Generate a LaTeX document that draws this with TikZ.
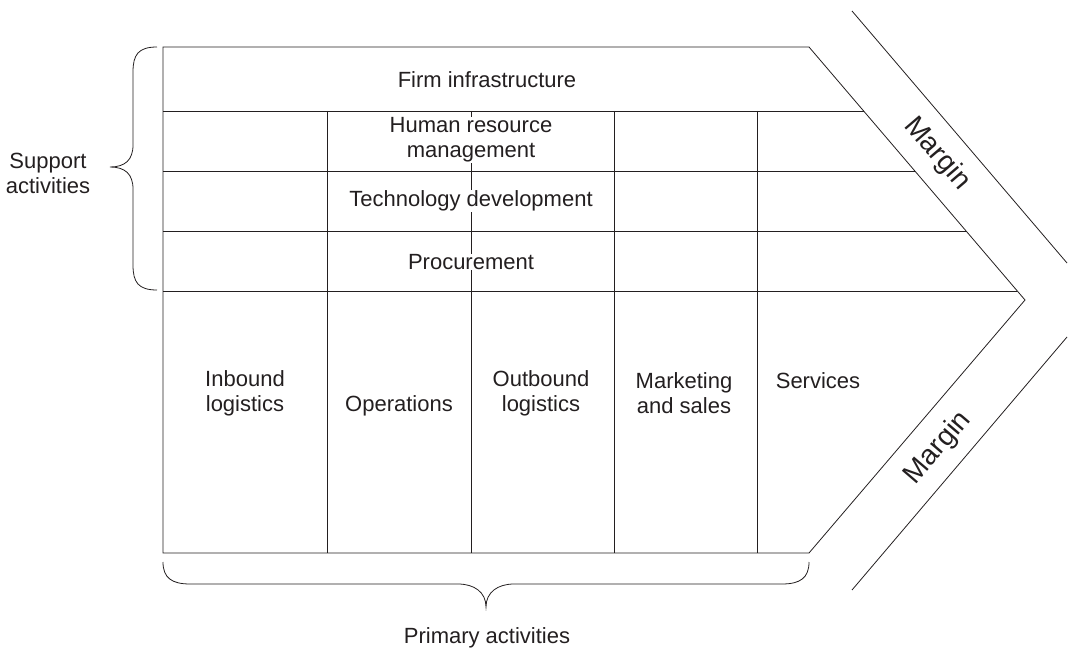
\documentclass[tikz,border=0pt]{standalone}
\usepackage{fontspec}
\setmainfont{Liberation Sans}
\definecolor{ink}{HTML}{231F20}
\begin{document}
\begin{tikzpicture}[x=1pt,y=-1pt,line width=0.8pt,
  ln/.style={draw=ink},
  lbl/.style={font=\fontsize{22}{25}\selectfont,align=center,text=ink,inner sep=0.5pt},
  wlbl/.style={lbl,fill=white},
  mlbl/.style={font=\fontsize{28}{30}\selectfont,text=ink,inner sep=0pt}]
\useasboundingbox (0,0) rectangle (1068,650);
% outline
\coordinate (TL) at (163,47);
\coordinate (TR) at (809,47);
\coordinate (TIP) at (1025,300);
\coordinate (BR) at (809,553);
\coordinate (BL) at (163,553);
\draw[ln] (TL) -- (TR) -- (TIP) -- (BR) -- (BL) -- cycle;
% support rows
\coordinate (h1l) at (163,111); \coordinate (h1r) at (863.6,111);
\coordinate (h2l) at (163,171); \coordinate (h2r) at (914.9,171);
\coordinate (h3l) at (163,231); \coordinate (h3r) at (966.1,231);
\coordinate (h4l) at (163,291); \coordinate (h4r) at (1017.3,291);
\draw[ln] (h1l) -- (h1r);
\draw[ln] (h2l) -- (h2r);
\draw[ln] (h3l) -- (h3r);
\draw[ln] (h4l) -- (h4r);
% columns
\foreach \x/\n in {327/a,471/b,614/c,757/d}{
  \coordinate (v\n t) at (\x,111);
  \coordinate (v\n b) at (\x,553);
  \draw[ln] (v\n t) -- (v\n b);
}
% margin lines
\coordinate (m1a) at (852,11); \coordinate (m1b) at (1067,263);
\coordinate (m2a) at (1067,337); \coordinate (m2b) at (852,590);
\draw[ln] (m1a) -- (m1b);
\draw[ln] (m2a) -- (m2b);
% support labels
\node[lbl] (fi) at (487,80) {Firm infrastructure};
\node[wlbl] (hrm) at (471,140) {Human resource\\management};
\node[wlbl] (td) at (471,201) {Technology development};
\node[wlbl] (pr) at (471,262) {Procurement};
% primary labels
\node[lbl] (il) at (245,393) {Inbound\\logistics};
\node[lbl] (op) at (399,406) {Operations};
\node[lbl] (ol) at (541,393) {Outbound\\logistics};
\node[lbl] (ms) at (684,393) {Marketing\\and sales};
\node[lbl] (sv) at (818,381) {Services};
% margin labels
\node[mlbl,rotate=-49.5] (mg1) at (937,154) {Margin};
\node[mlbl,rotate=49.5] (mg2) at (938,448) {Margin};
% support brace
\draw[ln] (157,47) .. controls (138,47) and (133,55) .. (133,72) -- (133,145)
  .. controls (133,160) and (125,167) .. (110,167)
  .. controls (125,167) and (133,174) .. (133,189) -- (133,265)
  .. controls (133,282) and (138,290) .. (157,290);
\node[lbl] (sa) at (48,173) {Support\\activities};
% primary brace
\draw[ln] (163,562) .. controls (163,578) and (172,584) .. (190,584) -- (458,584)
  .. controls (474,584) and (486,592) .. (486,607)
  .. controls (486,592) and (498,584) .. (514,584) -- (782,584)
  .. controls (800,584) and (809,578) .. (809,562);
\node[lbl] (pa) at (487,638) {Primary activities};
\end{tikzpicture}
\end{document}
